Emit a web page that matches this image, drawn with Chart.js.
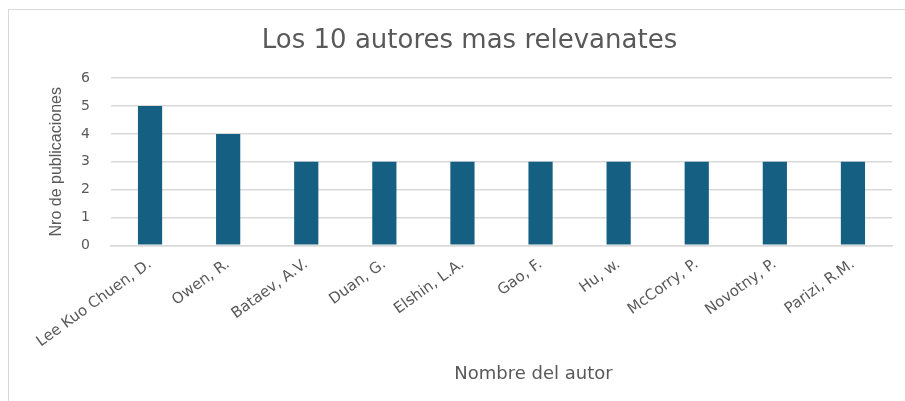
<!DOCTYPE html>
<html><head><meta charset="utf-8">
<script src="https://cdn.jsdelivr.net/npm/chart.js@4/dist/chart.umd.min.js"></script>
<style>
html,body{margin:0;padding:0;background:#fff;width:905px;height:401px;overflow:hidden}
#frame{position:absolute;left:8px;top:9px;width:940px;height:440px;border:1.5px solid #d9d9d9;box-sizing:border-box}
#wrap{position:absolute;left:0;top:0;width:905px;height:401px}
</style></head><body>
<div id="frame"></div>
<div id="wrap"><canvas id="c" width="905" height="401"></canvas></div>
<script>
const chartTitle = "Los 10 autores mas relevanates";
const xAxisTitle = "Nombre del autor";
const yAxisTitle = "Nro de publicaciones";
const authors = ["Lee Kuo Chuen, D.","Owen, R.","Bataev, A.V.","Duan, G.","Elshin, L.A.","Gao, F.","Hu, w.","McCorry, P.","Novotny, P.","Parizi, R.M."];
const publications = [5,4,3,3,3,3,3,3,3,3];
const yTicks = [0,1,2,3,4,5,6];

const xTitlePlugin = {
  id: 'xTitle',
  afterDraw(chart) {
    const ctx = chart.ctx, a = chart.chartArea;
    ctx.save();
    ctx.font = '18px "DejaVu Sans"';
    ctx.fillStyle = '#595959';
    ctx.textAlign = 'center';
    ctx.textBaseline = 'middle';
    ctx.fillText(xAxisTitle, (a.left + a.right) / 2 + 32, 374);
    ctx.restore();
  }
};

new Chart(document.getElementById('c'), {
  type: 'bar',
  data: { labels: authors, datasets: [{ data: publications, backgroundColor: '#156082', borderWidth: 0, categoryPercentage: 1.0, barPercentage: 0.31 }] },
  plugins: [xTitlePlugin],
  options: {
    responsive: false, animation: false,
    layout: { padding: { left: 47, right: 13, top: 26, bottom: 40 } },
    plugins: {
      legend: { display: false }, tooltip: { enabled: false },
      title: { display: true, text: chartTitle, color: '#595959', font: { family: 'DejaVu Sans', size: 26, weight: 'normal' }, padding: { top: 0, bottom: 21 } }
    },
    scales: {
      x: {
        afterFit: (s) => { s.paddingLeft = 0; s.paddingRight = 0; },
        grid: { display: false, drawTicks: false },
        border: { display: true, color: '#d9d9d9', width: 1.5 },
        ticks: { color: '#595959', font: { family: 'DejaVu Sans', size: 15 }, minRotation: 36, maxRotation: 36, padding: 10, autoSkip: false },
        title: { display: false }
      },
      y: {
        min: 0, max: 6,
        afterBuildTicks: (s) => { s.ticks = yTicks.map(v => ({ value: v })); },
        afterFit: (s) => { s.width = 64; },
        grid: { color: '#d9d9d9', lineWidth: 1.5, drawTicks: false },
        border: { display: false },
        ticks: { color: '#595959', font: { family: 'DejaVu Sans', size: 14 }, padding: 21 },
        title: { display: true, text: yAxisTitle, color: '#595959', font: { family: 'Liberation Sans', size: 16 }, padding: { top: 0, bottom: 15 } }
      }
    }
  }
});
</script>
</body></html>
